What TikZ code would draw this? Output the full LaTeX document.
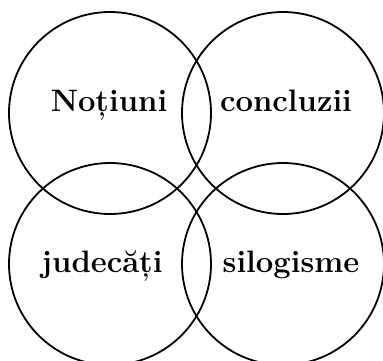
\documentclass[tikz,border=0pt]{standalone}
\usepackage{tikz}
\usepackage{xcolor}

\tikzset{
  ring/.style={circle, draw=black, line width=1.8pt, minimum size=202pt, inner sep=0pt},
  word/.style={font=\bfseries\fontsize{31}{34}\selectfont, inner sep=0pt, anchor=base}
}

\begin{document}
\begin{tikzpicture}[x=1pt, y=-1pt]
\useasboundingbox (0,0) rectangle (383,360);
\clip (0,0) rectangle (383,360);
% cercurile
\node[ring] (c1) at (110,113) {};
\node[ring] (c2) at (283,113) {};
\node[ring] (c3) at (110,264) {};
\node[ring] (c4) at (283,264) {};
% cuvintele
\node[word] (t1) at (109,111) {Noțiuni};
\node[word] (t2) at (286,111) {concluzii};
\node[word] (t3) at (102,272) {judecăți};
\node[word] (t4) at (291,272) {silogisme};
\end{tikzpicture}
\end{document}
